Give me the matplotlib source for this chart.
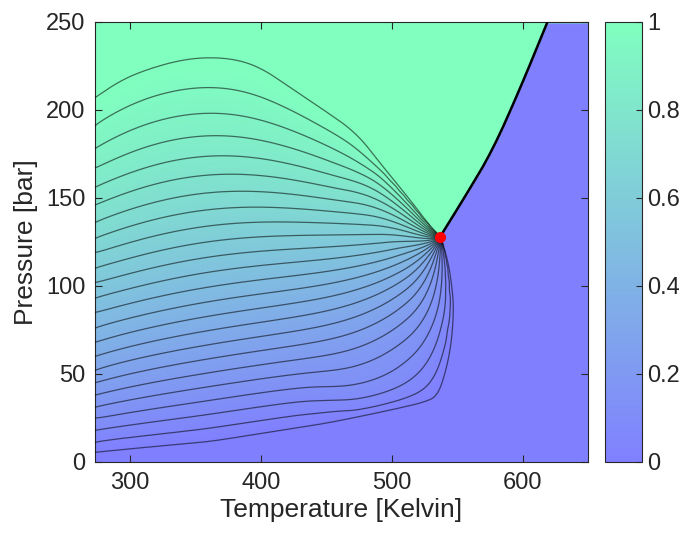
import numpy as np
import matplotlib
matplotlib.use("Agg")
import matplotlib.pyplot as plt
from matplotlib.colors import LinearSegmentedColormap
from matplotlib.path import Path

plt.rcParams['font.family'] = ['Liberation Sans', 'DejaVu Sans']

# Bubble curve (liquid fraction = 1), from the left edge to the critical point
bubble_t = [273.15, 290, 307, 333, 356, 380, 400, 422, 448, 473, 493, 514, 526, 537]
bubble_p = [207, 215.5, 221.5, 227.5, 230, 229, 224, 213, 200, 187, 168, 149, 137, 128]

# Dew curve (liquid fraction = 0), from the left edge to the critical point
dew_t = [273.15, 300, 330, 360, 390, 420, 450, 480, 505, 525, 535,
         541.5, 545.4, 547.2, 546.7, 542.9, 537]
dew_p = [5.5, 7.5, 9.5, 11.5, 15, 18.5, 22, 26.5, 30.5, 34, 37.5,
         52, 67, 83, 96, 115, 128]

# Liquid-like / vapour-like split above the critical point
super_t = [537, 557, 577, 598, 619]
super_p = [128, 152, 177, 212, 250]

crit_t = 537
crit_p = 128

# Pressure at which each iso-fraction line leaves T = 273.15 K (top to bottom)
edge_p = [207, 191, 178, 167, 156, 146, 136, 127, 119, 110, 102, 93, 85,
          76, 68, 60, 52, 45, 38, 31, 25, 18, 11, 5.5]

t_lim = (273.15, 650)
p_lim = (0, 250)
t_ticks = [300, 400, 500, 600]
p_ticks = [0, 50, 100, 150, 200, 250]
cbar_ticks = [0, 0.2, 0.4, 0.6, 0.8, 1]
cbar_labels = ['0', '0.2', '0.4', '0.6', '0.8', '1']


def smooth(t, p, passes=3):
    """Chaikin corner cutting; end points stay where they are."""
    pts = np.column_stack([t, p]).astype(float)
    for _ in range(passes):
        q = 0.75 * pts[:-1] + 0.25 * pts[1:]
        r = 0.25 * pts[:-1] + 0.75 * pts[1:]
        mid = np.empty((2 * len(q), 2))
        mid[0::2] = q
        mid[1::2] = r
        pts = np.vstack([pts[:1], mid, pts[-1:]])
    return pts


cmap = LinearSegmentedColormap.from_list(
    'phase', [(0.5, 0.5, 1.0), (0.5, 1.0, 0.75)])

bub = smooth(bubble_t, bubble_p, passes=4)
dew = smooth(dew_t, dew_p, passes=4)
sup = smooth(super_t, super_p, passes=2)

# Grid with square cells on screen (2 px each way)
scale = np.array([1.31, 1.76])
dt, dp = 2 / scale[0], 2 / scale[1]
tg = np.arange(t_lim[0], t_lim[1] + dt, dt)
pg = np.arange(p_lim[0] - dp, p_lim[1] + 2 * dp, dp)
TT, PP = np.meshgrid(tg, pg)

envelope = Path(np.vstack([bub, dew[::-1][1:]]) * scale)
xy = np.column_stack([TT.ravel(), PP.ravel()]) * scale
inside = envelope.contains_points(xy).reshape(TT.shape)
inside[:, 0] = False
inside[0, :] = inside[-1, :] = inside[:, -1] = False

# Single-phase values: liquid above the bubble curve / left of the split line
liquid = np.where(TT <= crit_t,
                  PP > np.interp(TT, bub[:, 0], bub[:, 1]),
                  PP > np.interp(TT, sup[:, 0], sup[:, 1]))
F = liquid.astype(float)

# Left edge carries the fractions where each iso-line starts
edge = np.array(edge_p)[::-1]
f_lines = np.linspace(0, 1, len(edge))
on_edge = (pg >= edge[0]) & (pg <= edge[-1])
F[on_edge, 0] = np.interp(pg[on_edge], edge, f_lines)
F[inside] = 0.5

# Weaker coupling along the dew nose and the bubble curve near the critical
# point, so the iso-lines crowd along them there
wall = np.vstack([bub[bub[:, 0] > 495], dew[dew[:, 0] > 470]]) * scale
K = np.full(F.shape, 0.25)
cells = xy[inside.ravel()]
dist = np.min(np.hypot(cells[:, None, 0] - wall[None, :, 0],
                       cells[:, None, 1] - wall[None, :, 1]), axis=1)
K[inside] = 0.25 + 0.75 * np.minimum(dist / 45.0, 1.0)
K[~inside] = 1.0
near_wall = ~inside & (np.hypot(xy[:, 0] - 0, 0).reshape(TT.shape) >= 0)
K[~inside & (TT > 465)] = 0.25

kE = 0.5 * (K + np.roll(K, -1, 1))
kW = 0.5 * (K + np.roll(K, 1, 1))
kN = 0.5 * (K + np.roll(K, -1, 0))
kS = 0.5 * (K + np.roll(K, 1, 0))
ksum = kE + kW + kN + kS

ii, jj = np.indices(F.shape)
red = inside & ((ii + jj) % 2 == 0)
black = inside & ((ii + jj) % 2 == 1)
omega = 1.93
for _ in range(1500):
    for m in (red, black):
        avg = (kE * np.roll(F, -1, 1) + kW * np.roll(F, 1, 1)
               + kN * np.roll(F, -1, 0) + kS * np.roll(F, 1, 0)) / ksum
        F[m] += omega * (avg[m] - F[m])

fig = plt.figure(figsize=(6.82, 5.36), dpi=100)
ax = fig.add_axes([0.1393, 0.1381, 0.7229, 0.8209])
cax = fig.add_axes([0.887, 0.1381, 0.0543, 0.8209])

mesh = ax.pcolormesh(TT, PP, F, cmap=cmap, vmin=0, vmax=1,
                     shading='gouraud', zorder=1)

# Iso-fraction lines; hide the split line quadrant so it does not stack contours
Fc = np.where((TT > crit_t - 1) & (PP > crit_p - 1) & ~inside, np.nan, F)
ax.contour(TT, PP, Fc, levels=f_lines[1:-1], colors='k', linewidths=0.9,
           alpha=0.55, zorder=3)
ax.plot(bub[:, 0], bub[:, 1], color='k', lw=0.9, alpha=0.55, zorder=3)
ax.plot(dew[:, 0], dew[:, 1], color='k', lw=0.9, alpha=0.55, zorder=3)

ax.plot(sup[:, 0], sup[:, 1], color='k', lw=1.8, zorder=4)
ax.plot([crit_t], [crit_p], 'o', color='red', ms=7, zorder=5)

ax.set_xlim(t_lim)
ax.set_ylim(p_lim)
ax.set_xticks(t_ticks)
ax.set_yticks(p_ticks)
ax.tick_params(direction='in', top=True, right=True, length=5, width=0.8,
               labelsize=17, color='#262626', labelcolor='#262626', pad=7)
for sp in ax.spines.values():
    sp.set_color('#262626')
    sp.set_linewidth(0.8)
ax.set_xlabel('Temperature [Kelvin]', fontsize=19, color='#262626', labelpad=3)
ax.set_ylabel('Pressure [bar]', fontsize=19, color='#262626', labelpad=6)

cb = fig.colorbar(mesh, cax=cax, ticks=cbar_ticks)
cb.ax.set_yticklabels(cbar_labels)
cb.ax.tick_params(direction='in', length=4, width=0.8, labelsize=17,
                  color='#262626', labelcolor='#262626', pad=4)
cb.outline.set_edgecolor('#262626')
cb.outline.set_linewidth(0.8)

fig.savefig('out.png', dpi=100)
